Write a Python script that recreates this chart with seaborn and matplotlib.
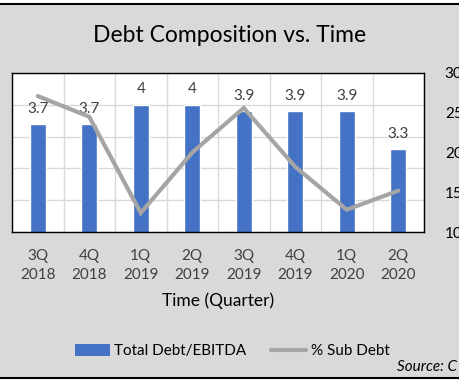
import numpy as np
import pandas as pd
import matplotlib
matplotlib.use("Agg")
import matplotlib.pyplot as plt
from matplotlib.patches import Patch, Rectangle
from matplotlib.lines import Line2D
import seaborn as sns

# data
quarters = ["3Q\n2018", "4Q\n2018", "1Q\n2019", "2Q\n2019",
            "3Q\n2019", "4Q\n2019", "1Q\n2020", "2Q\n2020"]
debt_ebitda = [3.7, 3.7, 4.0, 4.0, 3.9, 3.9, 3.9, 3.3]
sub_debt_pct = [27.1, 24.5, 12.4, 20.0, 25.6, 18.2, 12.8, 15.2]

BAR = "#4472C4"
LINE = "#A5A5A5"
TXT = "#404040"
BG = "#D9D9D9"

sns.set_theme(style="white")
plt.rcParams["font.family"] = ["Lato", "DejaVu Sans"]

df = pd.DataFrame({"quarter": quarters, "debt": debt_ebitda,
                   "sub": sub_debt_pct, "pos": np.arange(len(quarters))})

fig = plt.figure(figsize=(4.59, 3.83), dpi=100, facecolor="white")
fig.add_artist(Rectangle((0, 1 - 377.5 / 383), 1, (377.5 - 4) / 383,
                         transform=fig.transFigure, facecolor=BG,
                         edgecolor="none", zorder=-10))
fig.add_artist(Line2D([0, 1], [1 - 4 / 383] * 2, transform=fig.transFigure,
                      color="black", lw=1.5))
fig.add_artist(Line2D([0, 1], [1 - 377.5 / 383] * 2, transform=fig.transFigure,
                      color="black", lw=1.5))

ax = fig.add_axes([12 / 459, 1 - 232 / 383, (424 - 12) / 459, (232 - 73) / 383])
ax.set_facecolor("white")

sns.barplot(data=df, x="quarter", y="debt", color=BAR, width=0.31,
            saturation=1, ax=ax, zorder=2)
ax.bar_label(ax.containers[0], fmt="%g", padding=6, fontsize=11, color=TXT)

ax.set_ylim(2, 4.5)
ax.set_yticks(np.arange(2, 4.51, 0.5))
ax.set_yticklabels([])
ax.set_xlim(-0.5, len(quarters) - 0.5)
ax.set_xticks(np.arange(-0.5, len(quarters), 1), minor=True)
ax.grid(axis="y", which="major", color="#D9D9D9", lw=1, zorder=0)
ax.grid(axis="x", which="minor", color="#D9D9D9", lw=1, zorder=0)
ax.set_axisbelow(True)
ax.tick_params(axis="both", which="both", length=0)
ax.tick_params(axis="x", labelsize=11, labelcolor=TXT, pad=12)
for lbl in ax.get_xticklabels():
    lbl.set_linespacing(1.45)
ax.set_ylabel("")
ax.set_xlabel("Time (Quarter)", fontsize=12.5, color="black", labelpad=8)
for sp in ax.spines.values():
    sp.set_color("black")
    sp.set_linewidth(1)

ax2 = ax.twinx()
sns.lineplot(data=df, x="pos", y="sub", color=LINE, lw=3, ax=ax2,
             solid_joinstyle="miter")
ax2.set_ylim(10, 30)
ax2.set_yticks(np.arange(10, 30.1, 5))
ax2.set_yticklabels([f"{v:.1f}" for v in np.arange(10, 30.1, 5)])
ax2.tick_params(axis="y", length=0, labelsize=11, labelcolor="black", pad=15)
ax2.set_ylabel("")
ax2.set_xlim(-0.5, len(quarters) - 0.5)
ax2.grid(False)
for sp in ax2.spines.values():
    sp.set_visible(False)

fig.text(230 / 459, 1 - 36 / 383, "Debt Composition vs. Time",
         ha="center", va="center", fontsize=16.5, color="black")

handles = [Patch(facecolor=BAR, edgecolor="none"),
           Line2D([0], [0], color=LINE, lw=3)]
fig.legend(handles, ["Total Debt/EBITDA", "% Sub Debt"], loc="center",
           bbox_to_anchor=(232 / 459, 1 - 351 / 383), ncol=2, frameon=False,
           fontsize=11, handlelength=2.3, handleheight=0.8, handletextpad=0.3,
           columnspacing=1.6, labelcolor="black")

fig.text(397 / 459, 1 - 367 / 383, "Source: C", ha="left", va="center",
         fontsize=11, style="italic", color="black")

fig.savefig("out.png", dpi=100, facecolor="white")
